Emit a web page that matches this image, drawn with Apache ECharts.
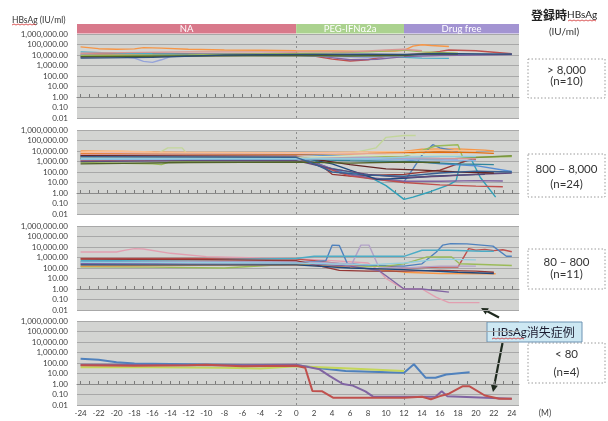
<!DOCTYPE html>
<html><head><meta charset="utf-8">
<script src="https://cdn.jsdelivr.net/npm/echarts@6/dist/echarts.min.js"></script>
<style>html,body{margin:0;padding:0;background:#fff}#c{width:608px;height:421px}</style>
</head><body><div id="c"></div>
<script>
// ---------------- DATA ----------------
const xTickLabels = [-24,-22,-20,-18,-16,-14,-12,-10,-8,-6,-4,-2,0,2,4,6,8,10,12,14,16,18,20,22,24];
const monthTicks = [-24,-23,-22,-21,-20,-19,-18,-17,-16,-15,-14,-13,-12,-11,-10,-9,-8,-7,-6,-5,-4,-3,-2,-1,0,1,2,3,4,5,6,7,8,9,10,11,12,13,14,15,16,17,18,19,20,21,22,23,24];
const phases = ['NA','PEG-IFNα2a','Drug free'];
const phaseBreaks = [0, 12];
const groupRanges = ['> 8,000','800 – 8,000','80 – 800','< 80'];
const groupCounts = ['(n=10)','(n=24)','(n=11)','(n=4)'];

// HBsAg (IU/ml) per patient: [month, value]
const panel1 = [
 [[-24,60000],[-22,40000],[-20,35000],[-18,38000],[-17,50000],[-15,45000],[-12,35000],[-8,30000],[-4,28000],[0,25000],[4,24000],[8,22000],[11,24000],[12,28000],[13,70000],[14,95000],[15,80000],[17,65000]],
 [[-24,12000],[-20,13000],[-16,14000],[-8,12000],[0,15000],[2,8000],[4,4000],[6,2700],[8,3500],[10,7500],[12,10000],[14,13000],[16,22000],[17,30000],[20,25000],[22,18000],[24,13000]],
 [[-24,20000],[-20,15000],[-16,13000],[-12,12000],[-6,11000],[0,12000],[4,10000],[8,9000],[12,6000],[14,5000],[17,4800]],
 [[-24,8000],[-16,9000],[-8,11000],[0,12000],[6,10000],[12,10000],[18,12000],[24,12000]],
 [[-24,6000],[-18,8000],[-10,9000],[0,10000],[3,7000],[6,3500],[9,4000],[12,7000],[16,9000],[20,10000],[24,11000]],
 [[-24,10000],[-20,8000],[-18,5000],[-17,2500],[-16,2000],[-15,3500],[-14,7000],[-10,10000],[0,9000],[4,7000],[8,6000],[12,8000]],
 [[-24,9000],[-12,10000],[0,14000],[4,16000],[8,20000],[12,30000],[14,20000],[18,15000]],
 [[-24,7000],[-12,8000],[0,9000],[6,8000],[12,9000],[14,12000],[18,12000]],
 [[-24,15000],[-12,20000],[0,20000],[6,20000],[10,30000],[12,35000],[14,25000]],
 [[-24,5000],[-16,6000],[-8,10000],[0,11000],[8,12000],[12,11000],[16,14000],[22,12000],[24,12000]]
];
const panel2 = [
 [[-24,10000],[-20,9000],[-12,7000],[-6,6000],[0,6000],[6,5000],[10,7000],[12,9000],[14,15000],[18,16000],[21,12000],[22,10000]],
 [[-24,3000],[-16,3000],[-14.3,20000],[-12.7,20000],[-12,4000],[0,4000],[6,6000],[8.9,20000],[10,200000],[12,300000],[13.3,300000]],
 [[-24,2500],[-12,2000],[0,2500],[2,1500],[3,300],[5,150],[8,40],[10,5],[12,0.25],[13,0.4],[15,1.4],[17,6],[17.8,15],[18.3,800],[19.5,1500],[20.5,30],[22.2,0.4]],
 [[-24,1500],[-12,1800],[0,2000],[2,800],[4,200],[6,60],[8,25],[10,15],[12,12],[13,200],[14,4000],[15.2,40000],[16,20000],[18,9000]],
 [[-24,800],[-16,600],[-15,500],[-14,1000],[0,1500],[6,2500],[12,3000],[15.5,30000],[18,40000],[18.5,3000],[20,2500],[24,3000]],
 [[-24,4000],[-12,3500],[0,3000],[3,300],[4,60],[6,40],[9,50],[12,60],[16,150],[19,1200],[20,1500]],
 [[-24,2000],[-12,2500],[0,2500],[3,400],[5,80],[8,30],[12,13],[16,13],[20,15],[23,14]],
 [[-24,1200],[-12,1500],[0,2000],[4,150],[6,40],[8,25],[12,10],[16,6],[20,4.5],[23,4]],
 [[-24,3000],[-12,3000],[0,3000],[4,600],[6,150],[9,20],[12,25],[15,40],[18,50],[21,60]],
 [[-24,5000],[0,5000],[6,3000],[12,1500],[16,600],[20,400],[24,110]],
 [[-24,6000],[-12,5000],[0,5000],[8,6000],[12,7000],[16,8000],[20,7000],[22,6000]],
 [[-24,2200],[-12,2500],[0,2000],[8,1500],[12,1800],[16,1500],[18,2000],[24,3500]],
 [[-24,4500],[-12,4000],[0,3500],[6,2000],[12,2500],[16,2000],[20,1800]],
 [[-24,3000],[0,3000],[8,2500],[12,2000],[18,1500]],
 [[-24,2000],[-12,1500],[0,1500],[6,1200],[12,1000],[18,600],[22,500]],
 [[-24,7000],[0,6000],[12,5000],[18,5000]],
 [[-24,1000],[-12,1200],[0,1200],[4,200],[8,60],[12,30],[16,40],[20,60],[24,80]],
 [[-24,3500],[0,3000],[6,500],[10,200],[14,150],[18,100],[22,80]],
 [[-24,1500],[0,1800],[12,1500],[20,1200]],
 [[-24,2500],[0,2500],[10,4000],[14,5000],[18,4000]],
 [[-24,8000],[-20,10000],[-16,8000],[0,7000],[12,9000],[16,12000],[20,10000]],
 [[-24,1800],[0,2000],[8,1800],[12,2500],[16,3000],[20,3000]],
 [[-24,600],[-12,800],[0,900],[6,700],[12,900],[16,800]],
 [[-24,2800],[0,2500],[2,600],[4,100],[8,50],[12,40],[16,80],[20,120],[24,100]]
];
const panel3 = [
 [[-24,3300],[-20,3300],[-19,5000],[-18,7000],[-17,6500],[-14,2500],[-10,1200],[-4,900],[0,750],[4,500],[8,300],[9.2,60],[10,10],[11,3],[12,1],[14,1],[15.6,0.16],[17,0.05],[20.4,0.05]],
 [[-24,800],[-12,800],[0,700],[2,500],[6,200],[10,150],[12,100],[16,120],[18,120],[19.2,7000],[20,5000],[21,6000],[22,4500],[23,5500],[24,3500]],
 [[-24,400],[-12,350],[0,400],[2,400],[3.3,500],[4,15000],[4.8,14000],[5.7,250],[8,180],[12,150],[14,250],[15.6,3400],[16.3,15000],[17.2,21000],[19,20000],[21.9,12000],[23.4,1300],[24,1300]],
 [[-24,300],[-12,350],[0,400],[4,300],[6.2,250],[7.2,15000],[8.1,15000],[9.2,120],[12,100],[16,150],[20,150]],
 [[-24,500],[-12,600],[0,800],[2,1300],[12,1300],[14,4900],[17,4900],[20.7,4000],[22,4000]],
 [[-24,130],[-16,120],[-8,100],[0,250],[2,180],[6,120],[10,150],[12,250],[14.5,1100],[17.3,1100],[18.2,250],[24,175]],
 [[-24,150],[-12,180],[0,200],[6,120],[10,60],[12,40],[16,30],[22.2,28]],
 [[-24,700],[-12,650],[0,500],[4.8,60],[8,50],[12,50],[16,60],[20,50],[22,40]],
 [[-24,250],[-12,300],[0,300],[6,150],[9.2,58],[12,1],[14,1],[17,0.5]],
 [[-24,200],[0,200],[6,100],[12,70],[18,40],[22,30]],
 [[-24,350],[0,300],[8,200],[12,300],[16,700],[20,600]]
];
const panel4 = [
 [[-24,260],[-22,200],[-20,120],[-18,90],[-12,75],[-6,65],[0,60],[2.9,30],[5.5,17],[12,12],[13.1,76],[14.4,4],[15.5,4],[16.7,8],[19.3,13]],
 [[-24,40],[-16,40],[-8,35],[-4,30],[0,50],[6,30],[12,17]],
 [[-24,70],[-16,65],[-8,60],[0,70],[2.6,25],[3.7,6],[5.2,1],[6.3,0.7],[7.7,0.2],[8.6,0.06],[12,0.06],[15.5,0.06],[16.2,0.2],[16.8,0.07],[24,0.04]],
 [[-24,60],[-18,55],[-12,60],[-10,70],[-6,50],[0,55],[1,35],[1.8,0.22],[2.9,0.2],[4.1,0.05],[8,0.05],[12,0.05],[14,0.06],[15,0.035],[16,0.07],[17,0.12],[18.5,0.6],[19.3,0.6],[21,0.08],[22.6,0.04],[24,0.04]]
];

// ---------------- STYLE / LAYOUT ----------------
const pal1 = ['#F79646','#C0504D','#4BACC6','#4F81BD','#8064A2','#95A3D9','#9BBB59','#4F6228','#D99694','#2C4D75'];
const pal2 = ['#F79646','#C3D69B','#31A0B8','#4F81BD','#9BBB59','#953735','#8064A2','#C0504D','#1F497D','#558ED5','#E46C0A','#77933C','#D99694','#B3A2C7','#31859C','#E6B9B8','#5F497A','#632523','#8EB4E3','#D7E4BD','#FAC090','#92CDDC','#4F6228','#376092'];
const pal3 = ['#E29FB0','#C0504D','#4F81BD','#B3A2C7','#4BACC6','#9BBB59','#F79646','#953735','#8064A2','#1F497D','#93CDDD'];
const pal4 = ['#4F81BD','#C4D65A','#8064A2','#C0504D'];
const bandColors = ['#D8798B','#ABD28F','#A394D2'];
const FONT = 'Lato, "Noto Sans CJK JP", sans-serif';
const X_MIN = -24.4, X_MAX = 24.8;
const panelTops = [34,130,226,321], PANEL_H = 84, G_LEFT = 77, G_RIGHT = 89;

function fmtY(v){
  const e = Math.round(Math.log10(v));
  return Math.pow(10,e).toLocaleString('en-US',{minimumFractionDigits:2,maximumFractionDigits:2});
}

const grids = [{left:G_LEFT,right:G_RIGHT,top:24,height:9.5}];
const xAxes = [{type:'value',gridIndex:0,min:X_MIN,max:X_MAX,show:false}];
const yAxes = [{type:'value',gridIndex:0,min:0,max:1,show:false}];
panelTops.forEach((t,i)=>{
  grids.push({left:G_LEFT,right:G_RIGHT,top:t,height:PANEL_H,show:true,backgroundColor:'#D3D4D2',borderWidth:0});
  xAxes.push({type:'value',gridIndex:i+1,min:X_MIN,max:X_MAX,
    axisLine:{show:false},splitLine:{show:false},
    axisTick:{show:false},
    axisLabel:{show:i===3,customValues:xTickLabels,fontSize:8,color:'#404040',fontFamily:FONT,margin:4}});
  yAxes.push({type:'log',logBase:10,gridIndex:i+1,min:0.01,max:1000000,interval:1,
    axisLine:{show:false},axisTick:{show:false},
    splitLine:{show:true,lineStyle:{color:'#A8A8A8',width:1}},
    axisLabel:{formatter:fmtY,fontSize:8,color:'#404040',fontFamily:FONT,margin:9}});
});
// x axis drawn across the 1.00 line with monthly ticks
panelTops.forEach((t,i)=>{
  xAxes.push({type:'value',gridIndex:i+1,min:X_MIN,max:X_MAX,position:'bottom',offset:-PANEL_H*2/8,
    axisLine:{show:true,lineStyle:{color:'#8A8A8A',width:1}},
    axisTick:{show:true,customValues:monthTicks,length:3,inside:true,lineStyle:{color:'#7A7A7A'}},
    axisLabel:{show:false},splitLine:{show:false}});
});

const series = [];
series.push({type:'line',xAxisIndex:0,yAxisIndex:0,data:[[0,0.5]],symbol:'none',lineStyle:{opacity:0},silent:true,
  markArea:{silent:true,
    label:{show:true,position:'inside',color:'#fff',fontSize:9.5,fontFamily:FONT},
    data:phases.map((p,k)=>{
      const a = k===0?X_MIN:phaseBreaks[k-1];
      const b = k===phases.length-1?X_MAX:phaseBreaks[k];
      return [{xAxis:a,name:p,itemStyle:{color:bandColors[k]}},{xAxis:b}];
    })}});

const panels = [panel1,panel2,panel3,panel4];
const pals = [pal1,pal2,pal3,pal4];
panels.forEach((lines,pi)=>{
  lines.forEach((pts,li)=>{
    const s = {type:'line',xAxisIndex:pi+1,yAxisIndex:pi+1,data:pts,symbol:'none',showSymbol:false,silent:true,
      lineStyle:{width:pi===3?2:1.4,color:pals[pi][li]},itemStyle:{color:pals[pi][li]},z:3};
    if(li===0){
      s.markLine={silent:true,symbol:['none','none'],label:{show:false},z:2,
        lineStyle:{color:'#8C8C8C',type:[2,3],width:1},
        data:phaseBreaks.map(b=>({xAxis:b}))};
    }
    series.push(s);
  });
});

const boxTop = [59,154,249,343], boxH = [39,43,40,40];
const boxLine1 = [70.5,168.8,262,354], boxLine2 = [81.7,184.5,274.7,372];
const graphics = [];
boxTop.forEach((t,i)=>{
  graphics.push({type:'rect',shape:{x:528,y:t,width:77,height:boxH[i]},style:{fill:'none',stroke:'#9A9A9A',lineWidth:1,lineDash:[1.5,2]},silent:true});
  graphics.push({type:'text',x:566.5,y:boxLine1[i],style:{text:groupRanges[i],fill:'#333',font:'11.5px '+FONT,align:'center',verticalAlign:'middle'}});
  graphics.push({type:'text',x:566.5,y:boxLine2[i],style:{text:groupCounts[i],fill:'#333',font:'11.5px '+FONT,align:'center',verticalAlign:'middle'}});
});
// axis title
graphics.push({type:'text',x:12,y:20,style:{text:'HBsAg (IU/ml)',fill:'#333',font:'8.5px '+FONT,verticalAlign:'middle'}});
graphics.push({type:'polyline',shape:{points:[[12,25],[14,24],[16,25],[18,24],[20,25],[22,24],[24,25],[26,24],[28,25],[30,24],[32,25],[34,24],[36,25]]},style:{stroke:'#D03030',lineWidth:0.8,fill:'none'},silent:true});
// top-right header
graphics.push({type:'text',x:531,y:15,style:{text:'{a|登録時}{b|HBsAg}',verticalAlign:'middle',rich:{a:{font:'bold 12px "Noto Sans CJK JP"',fill:'#222'},b:{font:'10px '+FONT,fill:'#222'}}}});
graphics.push({type:'polyline',shape:{points:[[568,21],[570,20],[572,21],[574,20],[576,21],[578,20],[580,21],[582,20],[584,21],[586,20],[588,21],[590,20],[592,21],[594,20],[596,21]]},style:{stroke:'#D03030',lineWidth:0.8,fill:'none'},silent:true});
graphics.push({type:'text',x:564,y:32,style:{text:'(IU/ml)',fill:'#333',font:'10px '+FONT,align:'center',verticalAlign:'middle'}});
// callout
graphics.push({type:'rect',shape:{x:487,y:322,width:95,height:20},style:{fill:'#CDE8F3',stroke:'#6C93B3',lineWidth:1},silent:true});
graphics.push({type:'text',x:492,y:332,style:{text:'{b|HBsAg}{a|消失症例}',verticalAlign:'middle',rich:{a:{font:'12px "Noto Sans CJK JP"',fill:'#1A1A2E'},b:{font:'11.5px '+FONT,fill:'#1A1A2E'}}}});
graphics.push({type:'polyline',shape:{points:[[492,339],[494,338],[496,339],[498,338],[500,339],[502,338],[504,339],[506,338],[508,339],[510,338],[512,339],[514,338],[516,339],[518,338],[520,339],[522,338],[524,339]]},style:{stroke:'#D03030',lineWidth:0.8,fill:'none'},silent:true});
// arrows
graphics.push({type:'line',shape:{x1:499,y1:317.5,x2:487.2,y2:311.3},style:{stroke:'#1F2A1F',lineWidth:2.2},silent:true});
graphics.push({type:'polygon',shape:{points:[[481,308],[488.8,308.2],[485.6,314.4]]},style:{fill:'#1F2A1F'},silent:true});
graphics.push({type:'line',shape:{x1:502.5,y1:343,x2:494.3,y2:385.1},style:{stroke:'#1F2A1F',lineWidth:2.2},silent:true});
graphics.push({type:'polygon',shape:{points:[[493,392],[497.8,385.8],[490.9,384.5]]},style:{fill:'#1F2A1F'},silent:true});
// (M)
graphics.push({type:'text',x:545,y:413,style:{text:'(M)',fill:'#404040',font:'8.5px '+FONT,align:'center',verticalAlign:'middle'}});

const chart = echarts.init(document.getElementById('c'),null,{renderer:'canvas',width:608,height:421});
chart.setOption({
  animation:false,
  backgroundColor:'#fff',
  grid:grids,xAxis:xAxes,yAxis:yAxes,series:series,
  graphic:{elements:graphics}
});
</script></body></html>
